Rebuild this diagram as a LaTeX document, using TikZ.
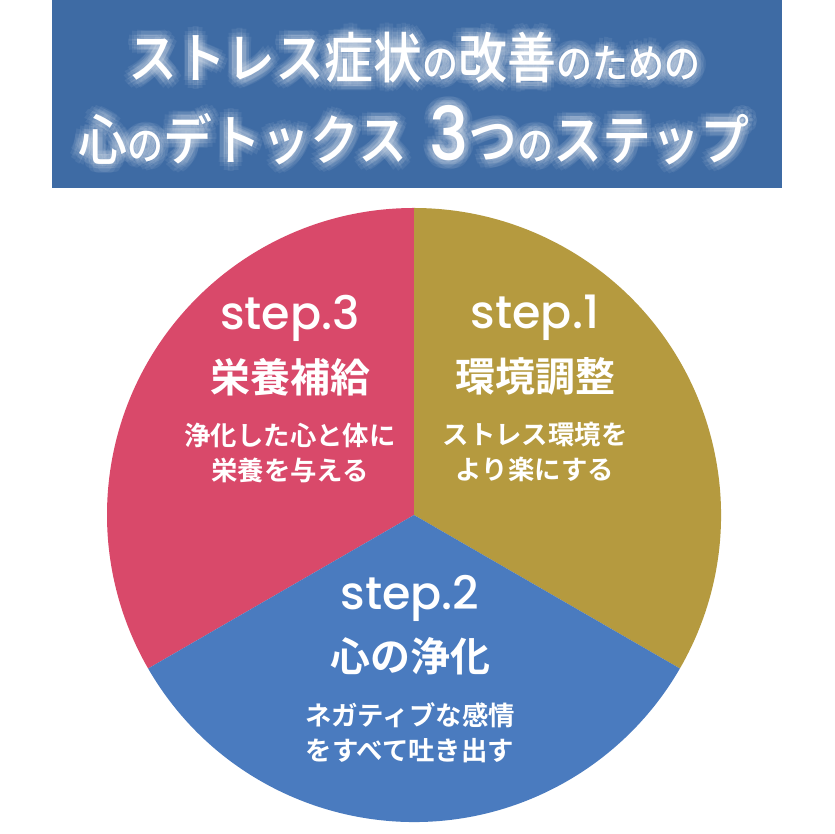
\documentclass[tikz,border=0pt]{standalone}
\usepackage{fontspec}
\newfontfamily\jpfont{Noto Sans CJK JP Medium}
\newfontfamily\jpbold{Noto Sans CJK JP Bold}
\newfontfamily\latnfont{Poppins Medium}
\usetikzlibrary{positioning}
\definecolor{bannerblue}{HTML}{3E6BA4}
\definecolor{steprose}{HTML}{D9496A}
\definecolor{stepgold}{HTML}{B59A3F}
\definecolor{stepblue}{HTML}{4A7BBF}
\tikzset{
  titletext/.style = {white,inner sep=0pt,font=\jpfont,yscale=1.12,transform shape},
  glowtext/.style  = {titletext,opacity=0.07},
  stepno/.style    = {white,inner sep=0pt,font=\latnfont\fontsize{23}{25}\selectfont},
  stepname/.style  = {white,inner sep=0pt,font=\jpbold\fontsize{20}{22}\selectfont},
  stepnote/.style  = {white,inner sep=0pt,align=center,
                      font=\jpbold\fontsize{13.2}{17.5}\selectfont}
}
\newcommand{\ttlbig}[1]{{\fontsize{24.5}{26}\selectfont #1}}
\newcommand{\ttlsml}[1]{{\fontsize{18}{20}\selectfont #1}}
\newcommand{\ttlnum}[1]{{\latnfont\fontsize{33}{34}\selectfont #1}}
\newcommand{\titleA}{\ttlbig{ストレス症状}\ttlsml{の}\ttlbig{改善}\ttlsml{のための}}
\newcommand{\titleB}{\ttlbig{心}\ttlsml{の}\ttlbig{デトックス}\hspace{11pt}\ttlnum{3}\ttlbig{つ}\ttlsml{の}\ttlbig{ステップ}}

\begin{document}
\begin{tikzpicture}[x=0.5pt,y=0.5pt]
  \useasboundingbox[fill=white] (0,0) rectangle (834,834);
  \fill[bannerblue] (52,646) rectangle (782,834);
  \foreach \r in {5,9}
    \foreach \a in {0,30,...,330} {
      \node[glowtext] (glowA-\r-\a) at ([shift={(\a:\r)}]414,776) {\titleA};
      \node[glowtext] (glowB-\r-\a) at ([shift={(\a:\r)}]414,699) {\titleB};
    }
  \node[titletext] (titleA) at (414,776) {\titleA};
  \node[titletext] (titleB) at (414,699) {\titleB};

  \coordinate (ctr) at (414,319);
  \fill[steprose] (ctr) -- ++(90:153.5pt)  arc[start angle=90,end angle=210,radius=153.5pt] -- cycle;
  \fill[stepgold] (ctr) -- ++(-30:153.5pt) arc[start angle=-30,end angle=90,radius=153.5pt] -- cycle;
  \fill[stepblue] (ctr) -- ++(210:153.5pt) arc[start angle=210,end angle=330,radius=153.5pt] -- cycle;

  \node[stepno] (no3) at (290,516) {step.3};
  \node[stepname,below=8pt of no3.south] (name3) {栄養補給};
  \node[stepnote,below=13pt of name3.south] (note3) {浄化した心と体に\\栄養を与える};

  \node[stepno] (no1) at (535,516) {step.1};
  \node[stepname,below=8pt of no1.south] (name1) {環境調整};
  \node[stepnote,below=13pt of name1.south] (note1) {ストレス環境を\\より楽にする};

  \node[stepno] (no2) at (410,236) {step.2};
  \node[stepname,below=8pt of no2.south] (name2) {心の浄化};
  \node[stepnote,below=13pt of name2.south] (note2) {ネガティブな感情\\をすべて吐き出す};
\end{tikzpicture}
\end{document}
